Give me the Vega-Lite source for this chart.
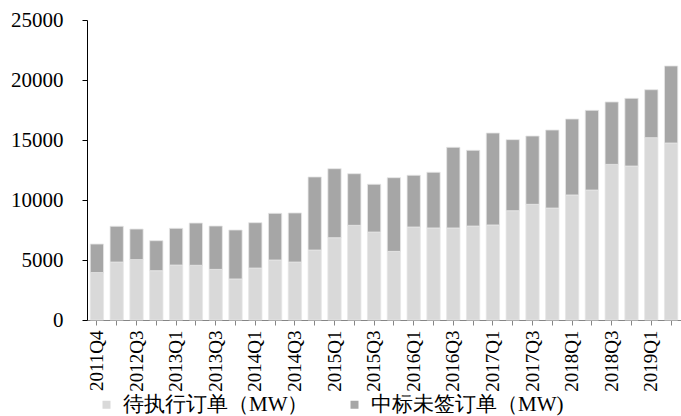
{
  "$schema": "https://vega.github.io/schema/vega-lite/v6.json",
  "width": 594,
  "height": 300,
  "autosize": "none",
  "padding": {"left": 87, "top": 20, "right": 0, "bottom": 96},
  "background": "white",
  "config": {
    "view": {"stroke": null},
    "font": "Liberation Serif"
  },
  "data": {
    "values": [
      {"q": "2011Q4", "a": 3950, "b": 2380},
      {"q": "2012Q2", "a": 4830, "b": 2980},
      {"q": "2012Q3", "a": 5030, "b": 2550},
      {"q": "2012Q4", "a": 4110, "b": 2500},
      {"q": "2013Q1", "a": 4580, "b": 3060},
      {"q": "2013Q2", "a": 4560, "b": 3520},
      {"q": "2013Q3", "a": 4220, "b": 3610},
      {"q": "2013Q4", "a": 3420, "b": 4080},
      {"q": "2014Q1", "a": 4330, "b": 3780},
      {"q": "2014Q2", "a": 5000, "b": 3890},
      {"q": "2014Q3", "a": 4830, "b": 4090},
      {"q": "2014Q4", "a": 5830, "b": 6090},
      {"q": "2015Q1", "a": 6860, "b": 5750},
      {"q": "2015Q2", "a": 7890, "b": 4300},
      {"q": "2015Q3", "a": 7330, "b": 3980},
      {"q": "2015Q4", "a": 5720, "b": 6140},
      {"q": "2016Q1", "a": 7750, "b": 4310},
      {"q": "2016Q2", "a": 7670, "b": 4640},
      {"q": "2016Q3", "a": 7670, "b": 6720},
      {"q": "2016Q4", "a": 7830, "b": 6310},
      {"q": "2017Q1", "a": 7920, "b": 7660},
      {"q": "2017Q2", "a": 9110, "b": 5920},
      {"q": "2017Q3", "a": 9640, "b": 5690},
      {"q": "2017Q4", "a": 9330, "b": 6500},
      {"q": "2018Q1", "a": 10420, "b": 6330},
      {"q": "2018Q2", "a": 10830, "b": 6640},
      {"q": "2018Q3", "a": 12970, "b": 5200},
      {"q": "2018Q4", "a": 12830, "b": 5640},
      {"q": "2019Q1", "a": 15190, "b": 4000},
      {"q": "2019Q2", "a": 14750, "b": 6420}
    ]
  },
  "transform": [{"fold": ["a", "b"], "as": ["series", "value"]}],
  "mark": {"type": "bar", "stroke": "#e6e6e6", "strokeWidth": 0.8},
  "encoding": {
    "x": {
      "field": "q",
      "type": "ordinal",
      "sort": null,
      "scale": {"paddingInner": 0.33, "paddingOuter": 0.165},
      "axis": {
        "title": null,
        "labelAngle": 270,
        "labelFontSize": 19,
        "labelColor": "#000000",
        "labelPadding": 5,
        "labelExpr": "test(/Q[13]$/, datum.value) || datum.value == '2011Q4' ? datum.value : ''",
        "domainColor": "#868686",
        "tickColor": "#868686",
        "tickSize": 5,
        "labelOverlap": false
      }
    },
    "y": {
      "field": "value",
      "type": "quantitative",
      "stack": "zero",
      "scale": {"domain": [0, 25000]},
      "axis": {
        "title": null,
        "values": [0, 5000, 10000, 15000, 20000, 25000],
        "format": "d",
        "grid": false,
        "labelFontSize": 21,
        "labelColor": "#000000",
        "labelPadding": 19,
        "domainColor": "#000000",
        "tickColor": "#000000",
        "tickSize": 5
      }
    },
    "color": {
      "field": "series",
      "type": "nominal",
      "scale": {"domain": ["a", "b"], "range": ["#d9d9d9", "#a6a6a6"]},
      "legend": {
        "title": null,
        "orient": "none",
        "direction": "horizontal",
        "legendX": 9,
        "legendY": 374,
        "padding": 0,
        "symbolType": "square",
        "symbolSize": 64,
        "symbolStrokeWidth": 0,
        "labelFontSize": 21,
        "labelColor": "#000000",
        "labelOffset": 6,
        "columnPadding": 35,
        "labelLimit": 300,
        "labelExpr": "datum.label == 'a' ? '待执行订单（MW）' : '中标未签订单（MW)'"
      }
    },
    "order": {"field": "series", "sort": "ascending"}
  }
}
